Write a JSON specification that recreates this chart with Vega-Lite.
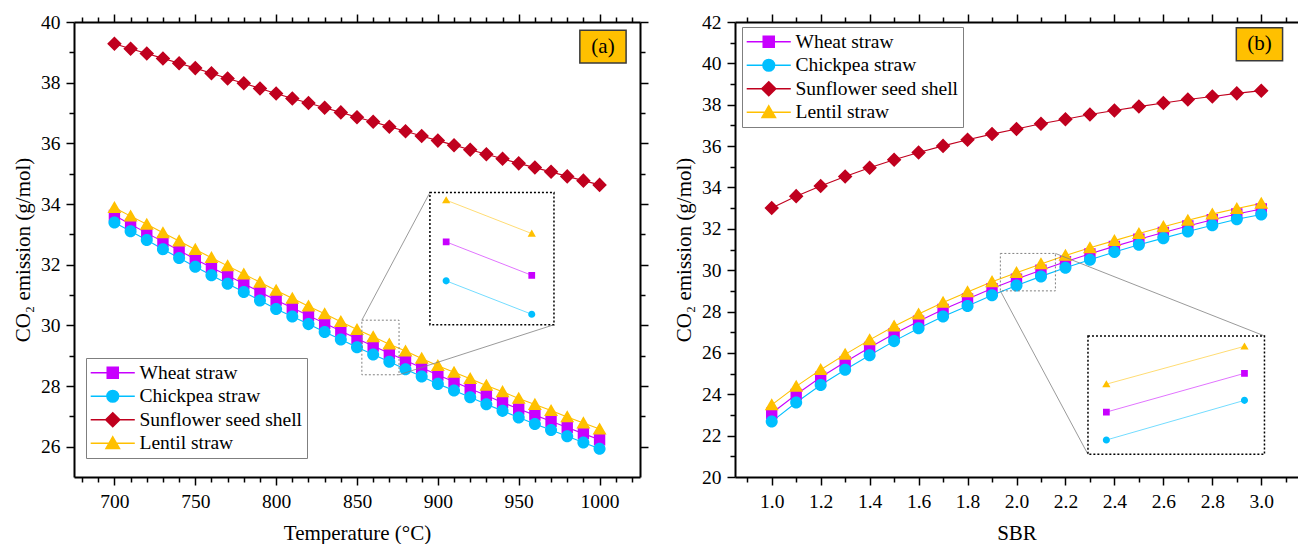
{
  "$schema": "https://vega.github.io/schema/vega-lite/v6.json",
  "padding": {"left": 12, "top": 12, "right": 0, "bottom": 0},
  "autosize": {"type": "pad"},
  "spacing": 95,
  "bounds": "flush",
  "resolve": {
    "scale": {"fill": "independent", "stroke": "independent", "shape": "independent"},
    "legend": {"fill": "independent", "stroke": "independent", "shape": "independent"}
  },
  "datasets": {
    "temp": [
      {"temp":700,"biomass":"Wheat straw","co2":33.62},{"temp":710,"biomass":"Wheat straw","co2":33.33},{"temp":720,"biomass":"Wheat straw","co2":33.04},{"temp":730,"biomass":"Wheat straw","co2":32.76},{"temp":740,"biomass":"Wheat straw","co2":32.47},{"temp":750,"biomass":"Wheat straw","co2":32.18},{"temp":760,"biomass":"Wheat straw","co2":31.91},{"temp":770,"biomass":"Wheat straw","co2":31.64},{"temp":780,"biomass":"Wheat straw","co2":31.37},{"temp":790,"biomass":"Wheat straw","co2":31.10},{"temp":800,"biomass":"Wheat straw","co2":30.83},{"temp":810,"biomass":"Wheat straw","co2":30.58},{"temp":820,"biomass":"Wheat straw","co2":30.32},{"temp":830,"biomass":"Wheat straw","co2":30.07},{"temp":840,"biomass":"Wheat straw","co2":29.81},{"temp":850,"biomass":"Wheat straw","co2":29.56},{"temp":860,"biomass":"Wheat straw","co2":29.32},{"temp":870,"biomass":"Wheat straw","co2":29.08},{"temp":880,"biomass":"Wheat straw","co2":28.84},{"temp":890,"biomass":"Wheat straw","co2":28.60},{"temp":900,"biomass":"Wheat straw","co2":28.36},{"temp":910,"biomass":"Wheat straw","co2":28.14},{"temp":920,"biomass":"Wheat straw","co2":27.91},{"temp":930,"biomass":"Wheat straw","co2":27.69},{"temp":940,"biomass":"Wheat straw","co2":27.46},{"temp":950,"biomass":"Wheat straw","co2":27.24},{"temp":960,"biomass":"Wheat straw","co2":27.04},{"temp":970,"biomass":"Wheat straw","co2":26.84},{"temp":980,"biomass":"Wheat straw","co2":26.63},{"temp":990,"biomass":"Wheat straw","co2":26.43},{"temp":1000,"biomass":"Wheat straw","co2":26.23},
      {"temp":700,"biomass":"Chickpea straw","co2":33.39},{"temp":710,"biomass":"Chickpea straw","co2":33.10},{"temp":720,"biomass":"Chickpea straw","co2":32.81},{"temp":730,"biomass":"Chickpea straw","co2":32.51},{"temp":740,"biomass":"Chickpea straw","co2":32.22},{"temp":750,"biomass":"Chickpea straw","co2":31.93},{"temp":760,"biomass":"Chickpea straw","co2":31.65},{"temp":770,"biomass":"Chickpea straw","co2":31.37},{"temp":780,"biomass":"Chickpea straw","co2":31.10},{"temp":790,"biomass":"Chickpea straw","co2":30.82},{"temp":800,"biomass":"Chickpea straw","co2":30.54},{"temp":810,"biomass":"Chickpea straw","co2":30.29},{"temp":820,"biomass":"Chickpea straw","co2":30.04},{"temp":830,"biomass":"Chickpea straw","co2":29.78},{"temp":840,"biomass":"Chickpea straw","co2":29.53},{"temp":850,"biomass":"Chickpea straw","co2":29.28},{"temp":860,"biomass":"Chickpea straw","co2":29.04},{"temp":870,"biomass":"Chickpea straw","co2":28.80},{"temp":880,"biomass":"Chickpea straw","co2":28.55},{"temp":890,"biomass":"Chickpea straw","co2":28.31},{"temp":900,"biomass":"Chickpea straw","co2":28.07},{"temp":910,"biomass":"Chickpea straw","co2":27.85},{"temp":920,"biomass":"Chickpea straw","co2":27.63},{"temp":930,"biomass":"Chickpea straw","co2":27.40},{"temp":940,"biomass":"Chickpea straw","co2":27.18},{"temp":950,"biomass":"Chickpea straw","co2":26.96},{"temp":960,"biomass":"Chickpea straw","co2":26.75},{"temp":970,"biomass":"Chickpea straw","co2":26.55},{"temp":980,"biomass":"Chickpea straw","co2":26.34},{"temp":990,"biomass":"Chickpea straw","co2":26.14},{"temp":1000,"biomass":"Chickpea straw","co2":25.93},
      {"temp":700,"biomass":"Sunflower seed shell","co2":39.28},{"temp":710,"biomass":"Sunflower seed shell","co2":39.12},{"temp":720,"biomass":"Sunflower seed shell","co2":38.96},{"temp":730,"biomass":"Sunflower seed shell","co2":38.80},{"temp":740,"biomass":"Sunflower seed shell","co2":38.64},{"temp":750,"biomass":"Sunflower seed shell","co2":38.48},{"temp":760,"biomass":"Sunflower seed shell","co2":38.31},{"temp":770,"biomass":"Sunflower seed shell","co2":38.14},{"temp":780,"biomass":"Sunflower seed shell","co2":37.98},{"temp":790,"biomass":"Sunflower seed shell","co2":37.81},{"temp":800,"biomass":"Sunflower seed shell","co2":37.64},{"temp":810,"biomass":"Sunflower seed shell","co2":37.48},{"temp":820,"biomass":"Sunflower seed shell","co2":37.33},{"temp":830,"biomass":"Sunflower seed shell","co2":37.17},{"temp":840,"biomass":"Sunflower seed shell","co2":37.02},{"temp":850,"biomass":"Sunflower seed shell","co2":36.86},{"temp":860,"biomass":"Sunflower seed shell","co2":36.71},{"temp":870,"biomass":"Sunflower seed shell","co2":36.55},{"temp":880,"biomass":"Sunflower seed shell","co2":36.40},{"temp":890,"biomass":"Sunflower seed shell","co2":36.24},{"temp":900,"biomass":"Sunflower seed shell","co2":36.09},{"temp":910,"biomass":"Sunflower seed shell","co2":35.94},{"temp":920,"biomass":"Sunflower seed shell","co2":35.79},{"temp":930,"biomass":"Sunflower seed shell","co2":35.64},{"temp":940,"biomass":"Sunflower seed shell","co2":35.49},{"temp":950,"biomass":"Sunflower seed shell","co2":35.34},{"temp":960,"biomass":"Sunflower seed shell","co2":35.20},{"temp":970,"biomass":"Sunflower seed shell","co2":35.06},{"temp":980,"biomass":"Sunflower seed shell","co2":34.91},{"temp":990,"biomass":"Sunflower seed shell","co2":34.77},{"temp":1000,"biomass":"Sunflower seed shell","co2":34.63},
      {"temp":700,"biomass":"Lentil straw","co2":33.88},{"temp":710,"biomass":"Lentil straw","co2":33.60},{"temp":720,"biomass":"Lentil straw","co2":33.33},{"temp":730,"biomass":"Lentil straw","co2":33.05},{"temp":740,"biomass":"Lentil straw","co2":32.78},{"temp":750,"biomass":"Lentil straw","co2":32.50},{"temp":760,"biomass":"Lentil straw","co2":32.23},{"temp":770,"biomass":"Lentil straw","co2":31.96},{"temp":780,"biomass":"Lentil straw","co2":31.69},{"temp":790,"biomass":"Lentil straw","co2":31.42},{"temp":800,"biomass":"Lentil straw","co2":31.15},{"temp":810,"biomass":"Lentil straw","co2":30.89},{"temp":820,"biomass":"Lentil straw","co2":30.63},{"temp":830,"biomass":"Lentil straw","co2":30.38},{"temp":840,"biomass":"Lentil straw","co2":30.12},{"temp":850,"biomass":"Lentil straw","co2":29.86},{"temp":860,"biomass":"Lentil straw","co2":29.62},{"temp":870,"biomass":"Lentil straw","co2":29.38},{"temp":880,"biomass":"Lentil straw","co2":29.15},{"temp":890,"biomass":"Lentil straw","co2":28.91},{"temp":900,"biomass":"Lentil straw","co2":28.67},{"temp":910,"biomass":"Lentil straw","co2":28.45},{"temp":920,"biomass":"Lentil straw","co2":28.24},{"temp":930,"biomass":"Lentil straw","co2":28.02},{"temp":940,"biomass":"Lentil straw","co2":27.81},{"temp":950,"biomass":"Lentil straw","co2":27.59},{"temp":960,"biomass":"Lentil straw","co2":27.39},{"temp":970,"biomass":"Lentil straw","co2":27.19},{"temp":980,"biomass":"Lentil straw","co2":26.98},{"temp":990,"biomass":"Lentil straw","co2":26.78},{"temp":1000,"biomass":"Lentil straw","co2":26.58}
    ],
    "sbr": [
      {"sbr":1.0,"biomass":"Wheat straw","co2":23.08},{"sbr":1.1,"biomass":"Wheat straw","co2":23.99},{"sbr":1.2,"biomass":"Wheat straw","co2":24.82},{"sbr":1.3,"biomass":"Wheat straw","co2":25.56},{"sbr":1.4,"biomass":"Wheat straw","co2":26.26},{"sbr":1.5,"biomass":"Wheat straw","co2":26.93},{"sbr":1.6,"biomass":"Wheat straw","co2":27.53},{"sbr":1.7,"biomass":"Wheat straw","co2":28.10},{"sbr":1.8,"biomass":"Wheat straw","co2":28.61},{"sbr":1.9,"biomass":"Wheat straw","co2":29.11},{"sbr":2.0,"biomass":"Wheat straw","co2":29.57},{"sbr":2.1,"biomass":"Wheat straw","co2":30.00},{"sbr":2.2,"biomass":"Wheat straw","co2":30.41},{"sbr":2.3,"biomass":"Wheat straw","co2":30.79},{"sbr":2.4,"biomass":"Wheat straw","co2":31.15},{"sbr":2.5,"biomass":"Wheat straw","co2":31.50},{"sbr":2.6,"biomass":"Wheat straw","co2":31.82},{"sbr":2.7,"biomass":"Wheat straw","co2":32.14},{"sbr":2.8,"biomass":"Wheat straw","co2":32.44},{"sbr":2.9,"biomass":"Wheat straw","co2":32.72},{"sbr":3.0,"biomass":"Wheat straw","co2":32.96},
      {"sbr":1.0,"biomass":"Chickpea straw","co2":22.68},{"sbr":1.1,"biomass":"Chickpea straw","co2":23.60},{"sbr":1.2,"biomass":"Chickpea straw","co2":24.45},{"sbr":1.3,"biomass":"Chickpea straw","co2":25.19},{"sbr":1.4,"biomass":"Chickpea straw","co2":25.89},{"sbr":1.5,"biomass":"Chickpea straw","co2":26.57},{"sbr":1.6,"biomass":"Chickpea straw","co2":27.19},{"sbr":1.7,"biomass":"Chickpea straw","co2":27.76},{"sbr":1.8,"biomass":"Chickpea straw","co2":28.27},{"sbr":1.9,"biomass":"Chickpea straw","co2":28.79},{"sbr":2.0,"biomass":"Chickpea straw","co2":29.26},{"sbr":2.1,"biomass":"Chickpea straw","co2":29.70},{"sbr":2.2,"biomass":"Chickpea straw","co2":30.12},{"sbr":2.3,"biomass":"Chickpea straw","co2":30.50},{"sbr":2.4,"biomass":"Chickpea straw","co2":30.88},{"sbr":2.5,"biomass":"Chickpea straw","co2":31.23},{"sbr":2.6,"biomass":"Chickpea straw","co2":31.55},{"sbr":2.7,"biomass":"Chickpea straw","co2":31.87},{"sbr":2.8,"biomass":"Chickpea straw","co2":32.17},{"sbr":2.9,"biomass":"Chickpea straw","co2":32.46},{"sbr":3.0,"biomass":"Chickpea straw","co2":32.69},
      {"sbr":1.0,"biomass":"Sunflower seed shell","co2":33.01},{"sbr":1.1,"biomass":"Sunflower seed shell","co2":33.58},{"sbr":1.2,"biomass":"Sunflower seed shell","co2":34.07},{"sbr":1.3,"biomass":"Sunflower seed shell","co2":34.53},{"sbr":1.4,"biomass":"Sunflower seed shell","co2":34.95},{"sbr":1.5,"biomass":"Sunflower seed shell","co2":35.34},{"sbr":1.6,"biomass":"Sunflower seed shell","co2":35.69},{"sbr":1.7,"biomass":"Sunflower seed shell","co2":36.01},{"sbr":1.8,"biomass":"Sunflower seed shell","co2":36.31},{"sbr":1.9,"biomass":"Sunflower seed shell","co2":36.58},{"sbr":2.0,"biomass":"Sunflower seed shell","co2":36.83},{"sbr":2.1,"biomass":"Sunflower seed shell","co2":37.08},{"sbr":2.2,"biomass":"Sunflower seed shell","co2":37.30},{"sbr":2.3,"biomass":"Sunflower seed shell","co2":37.53},{"sbr":2.4,"biomass":"Sunflower seed shell","co2":37.72},{"sbr":2.5,"biomass":"Sunflower seed shell","co2":37.91},{"sbr":2.6,"biomass":"Sunflower seed shell","co2":38.08},{"sbr":2.7,"biomass":"Sunflower seed shell","co2":38.25},{"sbr":2.8,"biomass":"Sunflower seed shell","co2":38.40},{"sbr":2.9,"biomass":"Sunflower seed shell","co2":38.55},{"sbr":3.0,"biomass":"Sunflower seed shell","co2":38.68},
      {"sbr":1.0,"biomass":"Lentil straw","co2":23.49},{"sbr":1.1,"biomass":"Lentil straw","co2":24.38},{"sbr":1.2,"biomass":"Lentil straw","co2":25.19},{"sbr":1.3,"biomass":"Lentil straw","co2":25.93},{"sbr":1.4,"biomass":"Lentil straw","co2":26.63},{"sbr":1.5,"biomass":"Lentil straw","co2":27.29},{"sbr":1.6,"biomass":"Lentil straw","co2":27.88},{"sbr":1.7,"biomass":"Lentil straw","co2":28.44},{"sbr":1.8,"biomass":"Lentil straw","co2":28.95},{"sbr":1.9,"biomass":"Lentil straw","co2":29.44},{"sbr":2.0,"biomass":"Lentil straw","co2":29.88},{"sbr":2.1,"biomass":"Lentil straw","co2":30.30},{"sbr":2.2,"biomass":"Lentil straw","co2":30.71},{"sbr":2.3,"biomass":"Lentil straw","co2":31.08},{"sbr":2.4,"biomass":"Lentil straw","co2":31.43},{"sbr":2.5,"biomass":"Lentil straw","co2":31.77},{"sbr":2.6,"biomass":"Lentil straw","co2":32.10},{"sbr":2.7,"biomass":"Lentil straw","co2":32.41},{"sbr":2.8,"biomass":"Lentil straw","co2":32.71},{"sbr":2.9,"biomass":"Lentil straw","co2":32.98},{"sbr":3.0,"biomass":"Lentil straw","co2":33.23}
    ]
  },
  "hconcat": [
    {
      "width": 566,
      "height": 455,
      "data": {"name": "temp"},
      "layer": [
        {
          "layer": [
            {
              "mark": {"type": "line", "strokeWidth": 1.1},
              "encoding": {
                "x": {"field": "temp", "type": "quantitative", "scale": {"domain": [675, 1025], "nice": false, "zero": false},
                  "axis": {"orient": "bottom", "title": "Temperature (°C)", "format": "d", "values": [680,690,700,710,720,730,740,750,760,770,780,790,800,810,820,830,840,850,860,870,880,890,900,910,920,930,940,950,960,970,980,990,1000,1010,1020],
                    "labelExpr": "datum.value % 50 === 0 ? datum.label : ''", "tickSize": {"condition": {"test": "datum.value % 50 === 0", "value": 8}, "value": 5}, "titlePadding": 12}},
                "y": {"field": "co2", "type": "quantitative", "scale": {"domain": [25, 40], "nice": false, "zero": false},
                  "axis": {"orient": "left", "title": "CO₂ emission (g/mol)", "values": [26,27,28,29,30,31,32,33,34,35,36,37,38,39,40],
                    "labelExpr": "datum.value % 2 === 0 ? datum.label : ''", "tickSize": {"condition": {"test": "datum.value % 2 === 0", "value": 8}, "value": 5}, "titlePadding": 7}},
                "stroke": {"field": "biomass", "type": "nominal",
                  "scale": {"domain": ["Wheat straw", "Chickpea straw", "Sunflower seed shell", "Lentil straw"], "range": ["#C800FF", "#00BFFF", "#C0001E", "#FFC000"]},
                  "legend": {"title": null, "orient": "none", "legendX": 12, "legendY": 336}}
              }
            },
            {
              "mark": {"type": "point", "filled": true, "opacity": 1, "size": 160},
              "encoding": {
                "x": {"field": "temp", "type": "quantitative", "scale": {"domain": [675, 1025], "nice": false, "zero": false},
                  "axis": {"orient": "top", "title": null, "labels": false, "values": [680,690,700,710,720,730,740,750,760,770,780,790,800,810,820,830,840,850,860,870,880,890,900,910,920,930,940,950,960,970,980,990,1000,1010,1020],
                    "tickSize": {"condition": {"test": "datum.value % 50 === 0", "value": 8}, "value": 5}}},
                "y": {"field": "co2", "type": "quantitative", "scale": {"domain": [25, 40], "nice": false, "zero": false},
                  "axis": {"orient": "right", "title": null, "labels": false, "values": [26,27,28,29,30,31,32,33,34,35,36,37,38,39,40],
                    "tickSize": {"condition": {"test": "datum.value % 2 === 0", "value": 8}, "value": 5}}},
                "fill": {"field": "biomass", "type": "nominal",
                  "scale": {"domain": ["Wheat straw", "Chickpea straw", "Sunflower seed shell", "Lentil straw"], "range": ["#C800FF", "#00BFFF", "#C0001E", "#FFC000"]},
                  "legend": {"title": null, "orient": "none", "legendX": 12, "legendY": 336}},
                "shape": {"field": "biomass", "type": "nominal",
                  "scale": {"domain": ["Wheat straw", "Chickpea straw", "Sunflower seed shell", "Lentil straw"],
                    "range": ["M-0.9,-0.9H0.9V0.9H-0.9Z M-3.6,0H3.6", "M0.95,0A0.95,0.95,0,1,1,-0.95,0A0.95,0.95,0,1,1,0.95,0Z M-3.6,0H3.6", "M0,-1.15L1.15,0L0,1.15L-1.15,0Z M-3.6,0H3.6", "M0,-1.05L1.1,0.85L-1.1,0.85Z M-3.6,0H3.6"]},
                  "legend": {"title": null, "orient": "none", "legendX": 12, "legendY": 336}}
              }
            },
            {
              "data": {"values": [{}]},
              "mark": {"type": "rect", "fill": "transparent", "stroke": "#808080", "strokeWidth": 1, "strokeDash": [2, 2]},
              "encoding": {
                "x": {"datum": 853, "type": "quantitative", "axis": null}, "x2": {"datum": 876},
                "y": {"datum": 28.37, "type": "quantitative", "axis": null}, "y2": {"datum": 30.17}
              }
            },
            {
              "data": {"values": [{}]},
              "mark": {"type": "rule", "stroke": "#808080", "strokeWidth": 0.8},
              "encoding": {
                "x": {"datum": 853, "type": "quantitative", "axis": null}, "x2": {"datum": 895.1},
                "y": {"datum": 30.17, "type": "quantitative", "axis": null}, "y2": {"datum": 34.38}
              }
            },
            {
              "data": {"values": [{}]},
              "mark": {"type": "rule", "stroke": "#808080", "strokeWidth": 0.8},
              "encoding": {
                "x": {"datum": 876, "type": "quantitative", "axis": null}, "x2": {"datum": 971.8},
                "y": {"datum": 28.37, "type": "quantitative", "axis": null}, "y2": {"datum": 30.02}
              }
            },
            {
              "data": {"values": [{}]},
              "mark": {"type": "rect", "fill": "transparent", "stroke": "black", "strokeWidth": 1.5, "strokeDash": [2, 2]},
              "encoding": {
                "x": {"datum": 895.1, "type": "quantitative", "axis": null}, "x2": {"datum": 971.8},
                "y": {"datum": 30.02, "type": "quantitative", "axis": null}, "y2": {"datum": 34.38}
              }
            },
            {
              "data": {"values": [{}]},
              "mark": {"type": "rect", "fill": "#FFC000", "stroke": "#3a3a3a", "strokeWidth": 1.5},
              "encoding": {
                "x": {"datum": 987.8, "type": "quantitative", "axis": null}, "x2": {"datum": 1016.4},
                "y": {"datum": 38.645, "type": "quantitative", "axis": null}, "y2": {"datum": 39.73}
              }
            },
            {
              "data": {"values": [{"label": "(a)"}]},
              "mark": {"type": "text", "font": "Liberation Serif", "fontSize": 21, "align": "center", "baseline": "middle", "color": "black"},
              "encoding": {
                "x": {"datum": 1002.1, "type": "quantitative", "axis": null},
                "y": {"datum": 39.19, "type": "quantitative", "axis": null},
                "text": {"field": "label"}
              }
            }
          ]
        },
        {
          "transform": [{"filter": {"field": "temp", "oneOf": [860, 870]}}, {"filter": {"field": "biomass", "oneOf": ["Wheat straw", "Chickpea straw", "Lentil straw"]}}],
          "layer": [
            {
              "mark": {"type": "line", "strokeWidth": 1, "strokeOpacity": 0.55},
              "encoding": {
                "x": {"field": "temp", "type": "quantitative", "scale": {"domain": [858.1, 872.6], "range": [355.9, 480], "nice": false, "zero": false}, "axis": null},
                "y": {"field": "co2", "type": "quantitative", "scale": {"domain": [28.725, 29.675], "range": [302.7, 170.5], "nice": false, "zero": false}, "axis": null},
                "stroke": {"field": "biomass", "type": "nominal"}
              }
            },
            {
              "mark": {"type": "point", "filled": true, "opacity": 1, "size": 56},
              "encoding": {
                "x": {"field": "temp", "type": "quantitative", "scale": {"domain": [858.1, 872.6], "range": [355.9, 480], "nice": false, "zero": false}, "axis": null},
                "y": {"field": "co2", "type": "quantitative", "scale": {"domain": [28.725, 29.675], "range": [302.7, 170.5], "nice": false, "zero": false}, "axis": null},
                "fill": {"field": "biomass", "type": "nominal"},
                "shape": {"field": "biomass", "type": "nominal"}
              }
            }
          ]
        }
      ],
      "resolve": {"scale": {"x": "independent", "y": "independent"}}
    },
    {
      "width": 563,
      "height": 455,
      "data": {"name": "sbr"},
      "layer": [
        {
          "layer": [
            {
              "mark": {"type": "line", "strokeWidth": 1.1},
              "encoding": {
                "x": {"field": "sbr", "type": "quantitative", "scale": {"domain": [0.85, 3.15], "nice": false, "zero": false},
                  "axis": {"orient": "bottom", "title": "SBR", "values": [0.9,1.0,1.1,1.2,1.3,1.4,1.5,1.6,1.7,1.8,1.9,2.0,2.1,2.2,2.3,2.4,2.5,2.6,2.7,2.8,2.9,3.0,3.1],
                    "labelExpr": "round(datum.value * 10) % 2 === 0 ? format(datum.value, '.1f') : ''", "tickSize": {"condition": {"test": "round(datum.value * 10) % 2 === 0", "value": 8}, "value": 5}, "titlePadding": 12}},
                "y": {"field": "co2", "type": "quantitative", "scale": {"domain": [20, 42], "nice": false, "zero": false},
                  "axis": {"orient": "left", "title": "CO₂ emission (g/mol)", "values": [20,21,22,23,24,25,26,27,28,29,30,31,32,33,34,35,36,37,38,39,40,41,42],
                    "labelExpr": "datum.value % 2 === 0 ? datum.label : ''", "tickSize": {"condition": {"test": "datum.value % 2 === 0", "value": 8}, "value": 5}, "titlePadding": 7}},
                "stroke": {"field": "biomass", "type": "nominal",
                  "scale": {"domain": ["Wheat straw", "Chickpea straw", "Sunflower seed shell", "Lentil straw"], "range": ["#C800FF", "#00BFFF", "#C0001E", "#FFC000"]},
                  "legend": {"title": null, "orient": "none", "legendX": 7, "legendY": 5}}
              }
            },
            {
              "mark": {"type": "point", "filled": true, "opacity": 1, "size": 160},
              "encoding": {
                "x": {"field": "sbr", "type": "quantitative", "scale": {"domain": [0.85, 3.15], "nice": false, "zero": false},
                  "axis": {"orient": "top", "title": null, "labels": false, "values": [0.9,1.0,1.1,1.2,1.3,1.4,1.5,1.6,1.7,1.8,1.9,2.0,2.1,2.2,2.3,2.4,2.5,2.6,2.7,2.8,2.9,3.0,3.1],
                    "tickSize": {"condition": {"test": "round(datum.value * 10) % 2 === 0", "value": 8}, "value": 5}}},
                "y": {"field": "co2", "type": "quantitative", "scale": {"domain": [20, 42], "nice": false, "zero": false},
                  "axis": {"orient": "right", "title": null, "labels": false, "ticks": false, "domain": false}},
                "fill": {"field": "biomass", "type": "nominal",
                  "scale": {"domain": ["Wheat straw", "Chickpea straw", "Sunflower seed shell", "Lentil straw"], "range": ["#C800FF", "#00BFFF", "#C0001E", "#FFC000"]},
                  "legend": {"title": null, "orient": "none", "legendX": 7, "legendY": 5}},
                "shape": {"field": "biomass", "type": "nominal",
                  "scale": {"domain": ["Wheat straw", "Chickpea straw", "Sunflower seed shell", "Lentil straw"],
                    "range": ["M-0.9,-0.9H0.9V0.9H-0.9Z M-3.6,0H3.6", "M0.95,0A0.95,0.95,0,1,1,-0.95,0A0.95,0.95,0,1,1,0.95,0Z M-3.6,0H3.6", "M0,-1.15L1.15,0L0,1.15L-1.15,0Z M-3.6,0H3.6", "M0,-1.05L1.1,0.85L-1.1,0.85Z M-3.6,0H3.6"]},
                  "legend": {"title": null, "orient": "none", "legendX": 7, "legendY": 5}}
              }
            },
            {
              "data": {"values": [{}]},
              "mark": {"type": "rect", "fill": "transparent", "stroke": "#808080", "strokeWidth": 1, "strokeDash": [2, 2]},
              "encoding": {
                "x": {"datum": 1.934, "type": "quantitative", "axis": null}, "x2": {"datum": 2.159},
                "y": {"datum": 29.0, "type": "quantitative", "axis": null}, "y2": {"datum": 30.81}
              }
            },
            {
              "data": {"values": [{}]},
              "mark": {"type": "rule", "stroke": "#808080", "strokeWidth": 0.8},
              "encoding": {
                "x": {"datum": 2.159, "type": "quantitative", "axis": null}, "x2": {"datum": 3.013},
                "y": {"datum": 30.81, "type": "quantitative", "axis": null}, "y2": {"datum": 26.82}
              }
            },
            {
              "data": {"values": [{}]},
              "mark": {"type": "rule", "stroke": "#808080", "strokeWidth": 0.8},
              "encoding": {
                "x": {"datum": 1.934, "type": "quantitative", "axis": null}, "x2": {"datum": 2.292},
                "y": {"datum": 29.0, "type": "quantitative", "axis": null}, "y2": {"datum": 21.095}
              }
            },
            {
              "data": {"values": [{}]},
              "mark": {"type": "rect", "fill": "transparent", "stroke": "black", "strokeWidth": 1.5, "strokeDash": [2, 2]},
              "encoding": {
                "x": {"datum": 2.292, "type": "quantitative", "axis": null}, "x2": {"datum": 3.013},
                "y": {"datum": 21.095, "type": "quantitative", "axis": null}, "y2": {"datum": 26.82}
              }
            },
            {
              "data": {"values": [{}]},
              "mark": {"type": "rect", "fill": "#FFC000", "stroke": "#3a3a3a", "strokeWidth": 1.5},
              "encoding": {
                "x": {"datum": 2.898, "type": "quantitative", "axis": null}, "x2": {"datum": 3.087},
                "y": {"datum": 40.13, "type": "quantitative", "axis": null}, "y2": {"datum": 41.72}
              }
            },
            {
              "data": {"values": [{"label": "(b)"}]},
              "mark": {"type": "text", "font": "Liberation Serif", "fontSize": 21, "align": "center", "baseline": "middle", "color": "black"},
              "encoding": {
                "x": {"datum": 2.993, "type": "quantitative", "axis": null},
                "y": {"datum": 40.925, "type": "quantitative", "axis": null},
                "text": {"field": "label"}
              }
            }
          ]
        },
        {
          "transform": [{"filter": {"field": "sbr", "oneOf": [2, 2.1]}}, {"filter": {"field": "biomass", "oneOf": ["Wheat straw", "Chickpea straw", "Lentil straw"]}}],
          "layer": [
            {
              "mark": {"type": "line", "strokeWidth": 1, "strokeOpacity": 0.55},
              "encoding": {
                "x": {"field": "sbr", "type": "quantitative", "scale": {"domain": [1.9867, 2.1145], "range": [353.0, 529.5], "nice": false, "zero": false}, "axis": null},
                "y": {"field": "co2", "type": "quantitative", "scale": {"domain": [29.10, 30.415], "range": [432.4, 313.96], "nice": false, "zero": false}, "axis": null},
                "stroke": {"field": "biomass", "type": "nominal"}
              }
            },
            {
              "mark": {"type": "point", "filled": true, "opacity": 1, "size": 56},
              "encoding": {
                "x": {"field": "sbr", "type": "quantitative", "scale": {"domain": [1.9867, 2.1145], "range": [353.0, 529.5], "nice": false, "zero": false}, "axis": null},
                "y": {"field": "co2", "type": "quantitative", "scale": {"domain": [29.10, 30.415], "range": [432.4, 313.96], "nice": false, "zero": false}, "axis": null},
                "fill": {"field": "biomass", "type": "nominal"},
                "shape": {"field": "biomass", "type": "nominal"}
              }
            }
          ]
        }
      ],
      "resolve": {"scale": {"x": "independent", "y": "independent"}}
    }
  ],
  "config": {
    "view": {"stroke": null},
    "font": "Liberation Serif",
    "axis": {"domainColor": "black", "domainWidth": 2, "tickColor": "black", "tickWidth": 1.5, "labelFont": "Liberation Serif", "labelFontSize": 19.5, "labelColor": "black", "titleFont": "Liberation Serif", "titleFontSize": 21, "titleFontWeight": "normal", "titleColor": "black", "grid": false, "labelOverlap": false, "labelFlush": false},
    "axisX": {"labelPadding": 7},
    "axisY": {"labelPadding": 6},
    "legend": {"strokeColor": "#7f7f7f", "fillColor": "white", "padding": 5, "labelFont": "Liberation Serif", "labelFontSize": 19.5, "labelColor": "black", "symbolSize": 150, "symbolStrokeWidth": 1.5, "symbolOffset": 12, "labelOffset": 17, "rowPadding": 2.5, "labelLimit": 300}
  }
}
